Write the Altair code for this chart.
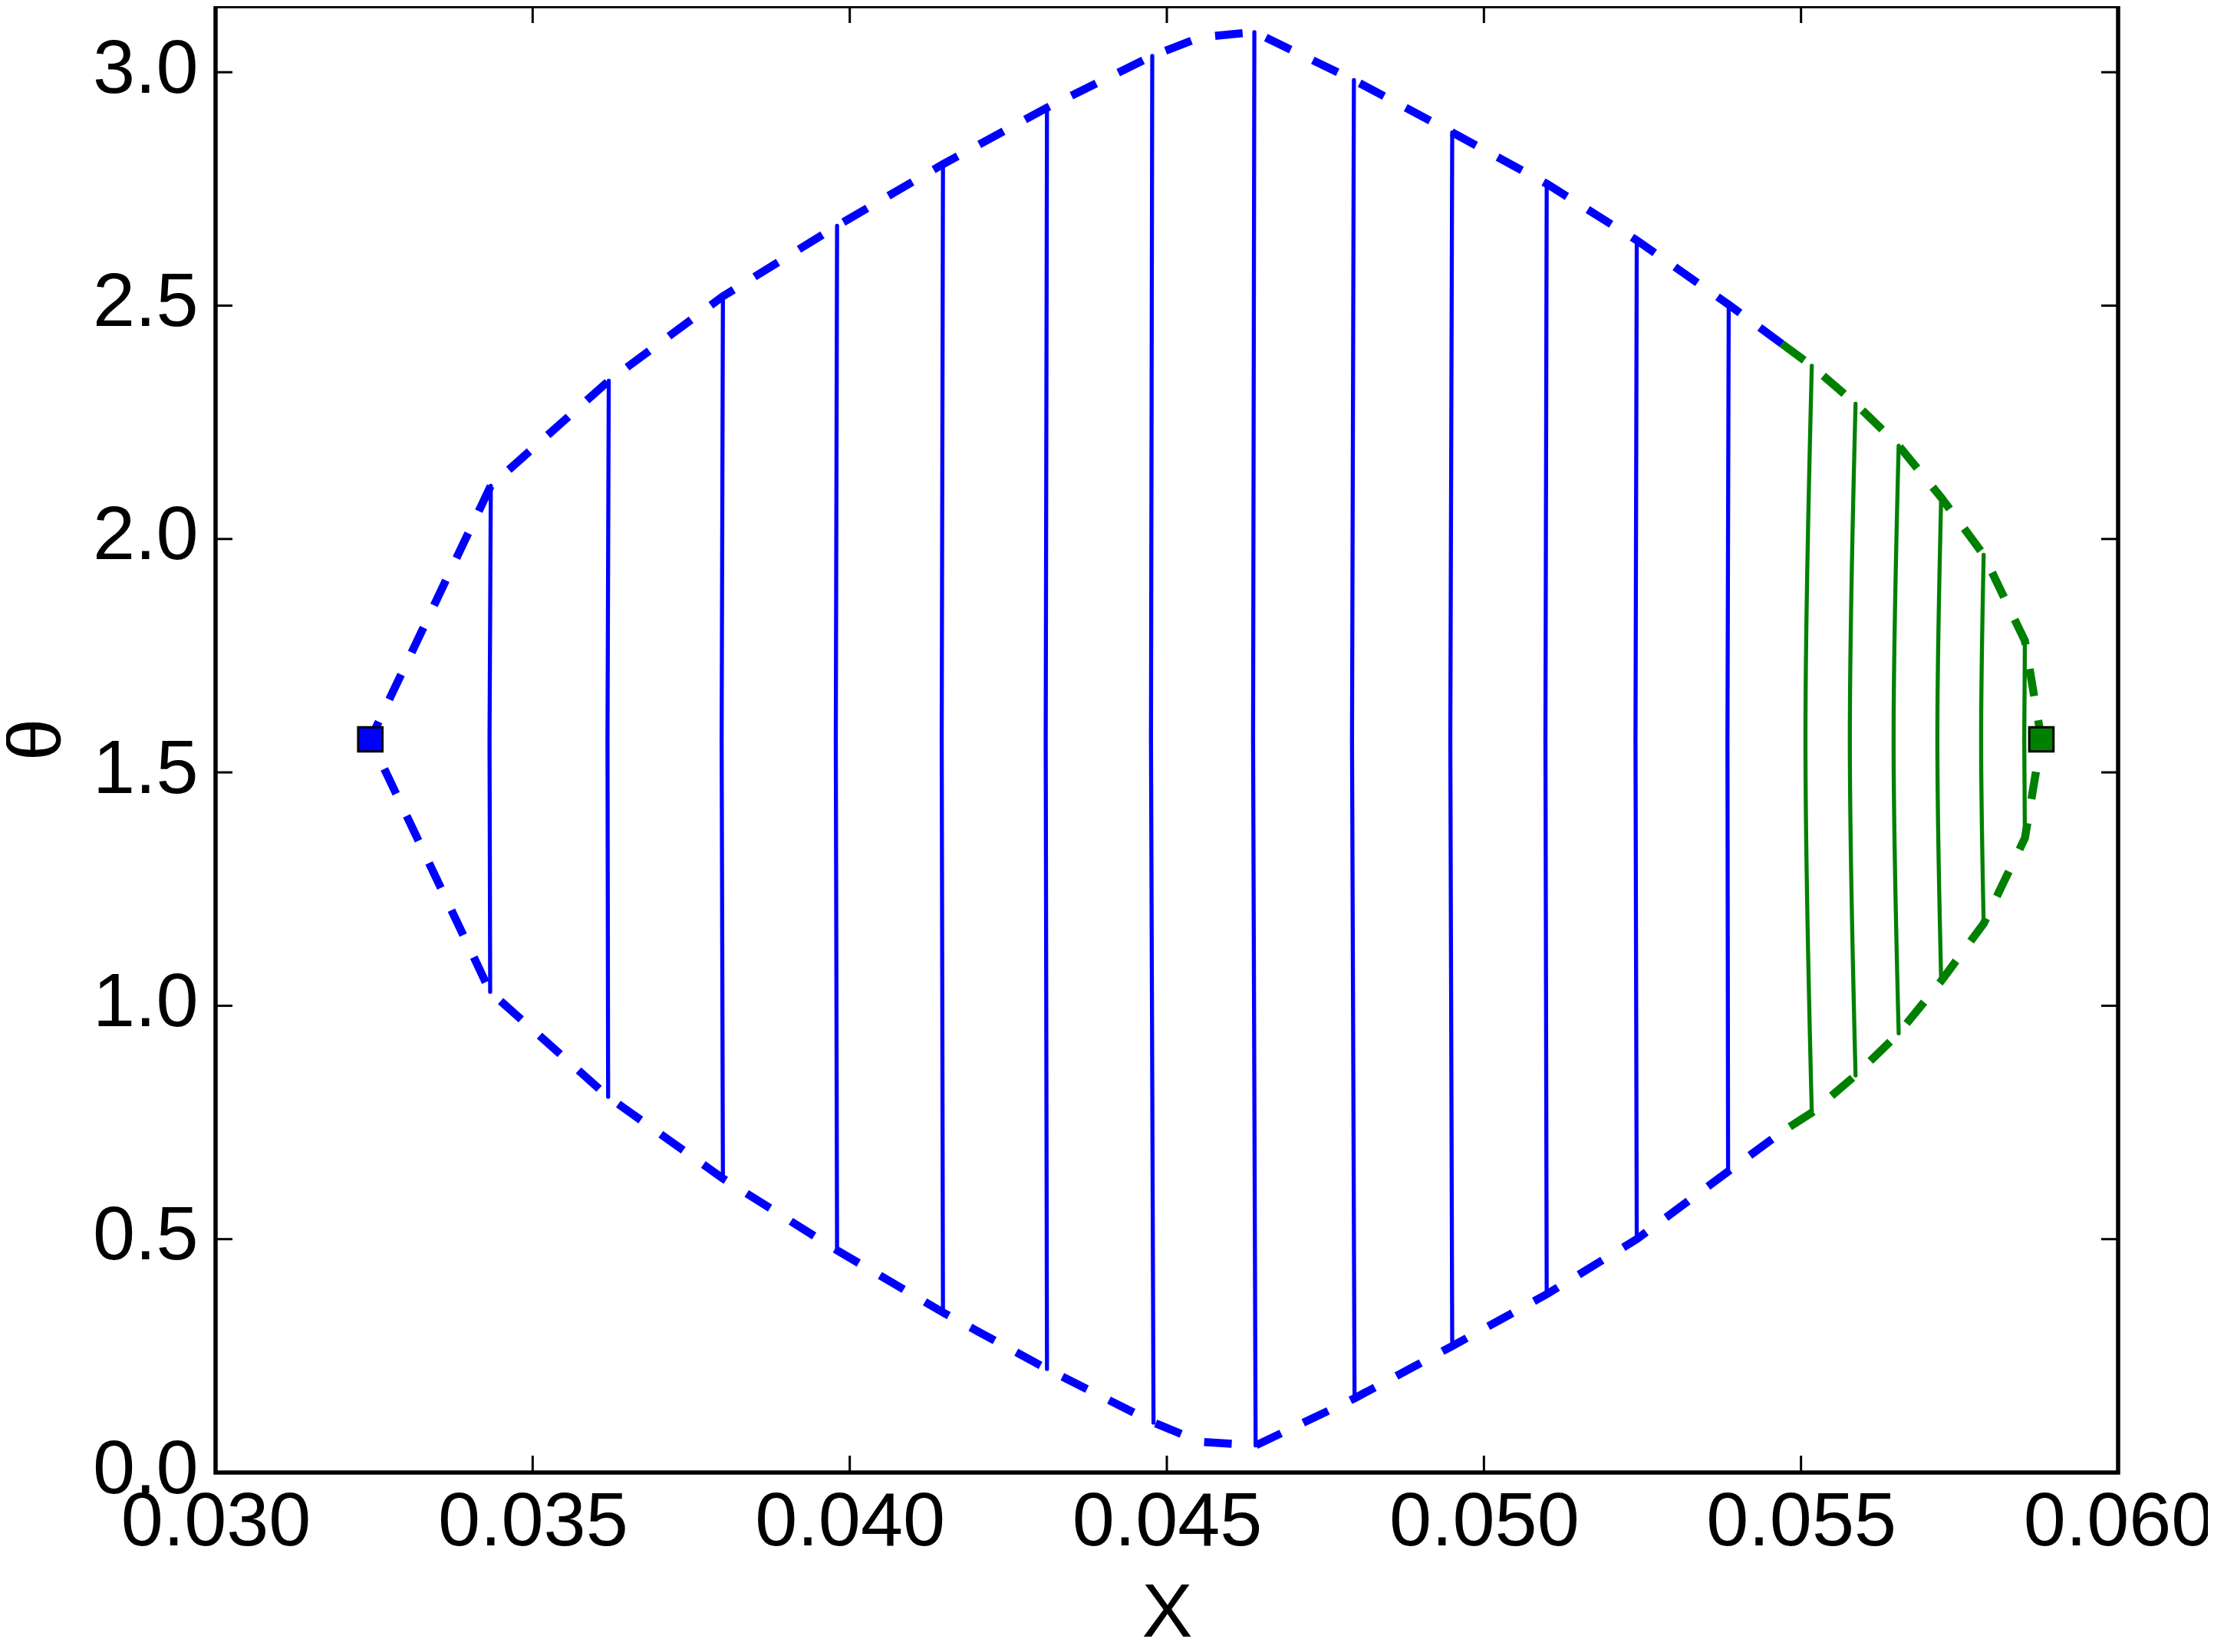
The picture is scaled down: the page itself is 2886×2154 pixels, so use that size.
import math
import altair as alt
import pandas as pd

PI = math.pi
MID = 1.5708

# ---- axis ticks ----
x_ticks = [0.030, 0.035, 0.040, 0.045, 0.050, 0.055, 0.060]
y_ticks = [0.0, 0.5, 1.0, 1.5, 2.0, 2.5, 3.0]

# ---- blue contour lines ----
blue_x_top = [0.03434, 0.03620, 0.03800, 0.03980, 0.04147, 0.04311, 0.04477,
              0.04638, 0.04795, 0.04950, 0.05099, 0.05241, 0.05386]
blue_x_mid = [0.03432, 0.03618, 0.03798, 0.03978, 0.04145, 0.04309, 0.04475,
              0.04636, 0.04792, 0.04947, 0.05097, 0.05239, 0.05384]
blue_x_bot = [0.03433, 0.03619, 0.03800, 0.03980, 0.04147, 0.04311, 0.04479,
              0.04640, 0.04796, 0.04950, 0.05099, 0.05241, 0.05385]
blue_top = [2.114, 2.339, 2.520, 2.671, 2.803, 2.924, 3.035,
            3.086, 2.983, 2.871, 2.761, 2.640, 2.502]
blue_bot = [1.030, 0.805, 0.630, 0.476, 0.343, 0.222, 0.107,
            0.058, 0.159, 0.271, 0.382, 0.500, 0.645]

# ---- green contour lines ----
green_x_top = [0.05517, 0.05586, 0.05654, 0.05721, 0.05788, 0.05853]
green_x_mid = [0.05507, 0.05577, 0.05646, 0.05715, 0.05784, 0.05852]
green_x_bot = [0.05517, 0.05586, 0.05654, 0.05721, 0.05788, 0.05853]
green_top = [2.371, 2.290, 2.200, 2.089, 1.966, 1.782]
green_bot = [0.771, 0.851, 0.941, 1.053, 1.176, 1.359]

# ---- boundary extra vertices ----
square_x = [0.03244, 0.05879]
square_y = [1.5708, 1.5708]
square_kind = ["blue", "green"]
peak_x, peak_top, peak_bot = 0.04553, 3.075, 0.066
junc_x, junc_top, junc_bot = 0.0547, 2.418, 0.730

FONT = "Liberation Sans"
W, H = 2480, 1912
BLUE, GREEN = "#0000ff", "#008000"

# ---- build tables ----
def lines_df(xt, xm, xb, top, bot):
    rows = []
    for i in range(len(xt)):
        rows.append({"line": i, "o": 0, "x": xt[i], "y": top[i]})
        rows.append({"line": i, "o": 1, "x": xm[i], "y": MID})
        rows.append({"line": i, "o": 2, "x": xb[i], "y": bot[i]})
    return pd.DataFrame(rows)

blue_lines = lines_df(blue_x_top, blue_x_mid, blue_x_bot, blue_top, blue_bot)
green_lines = lines_df(green_x_top, green_x_mid, green_x_bot, green_top, green_bot)

bpts = [(junc_x, junc_top)]
bpts += [(blue_x_top[i], blue_top[i]) for i in range(12, 6, -1)]
bpts += [(peak_x, peak_top)]
bpts += [(blue_x_top[i], blue_top[i]) for i in range(6, -1, -1)]
bpts += [(square_x[0], square_y[0])]
bpts += [(blue_x_bot[i], blue_bot[i]) for i in range(0, 7)]
bpts += [(peak_x, peak_bot)]
bpts += [(blue_x_bot[i], blue_bot[i]) for i in range(7, 13)]
bpts += [(junc_x, junc_bot)]
blue_bound = pd.DataFrame([{"o": k, "x": p[0], "y": p[1]} for k, p in enumerate(bpts)])

gpts = [(junc_x, junc_top)]
gpts += [(green_x_top[i], green_top[i]) for i in range(6)]
gpts += [(square_x[1], square_y[1])]
gpts += [(green_x_bot[i], green_bot[i]) for i in range(5, -1, -1)]
gpts += [(junc_x, junc_bot)]
green_bound = pd.DataFrame([{"o": k, "x": p[0], "y": p[1]} for k, p in enumerate(gpts)])

squares = pd.DataFrame({"x": square_x, "y": square_y, "kind": square_kind})
xt_df = pd.DataFrame({"x": x_ticks})
yt_df = pd.DataFrame({"y": y_ticks})

xs = alt.Scale(domain=[0.030, 0.060], nice=False, zero=False)
ys = alt.Scale(domain=[0, PI], nice=False, zero=False)

x_axis = alt.Axis(values=x_ticks, format=".3f", ticks=False,
                  domain=False, grid=False, labelFlush=False, labelOverlap=False,
                  labelLimit=0,
                  labelPadding=16, labelFont=FONT, labelFontSize=99, labelColor="black",
                  titleFont=FONT, titleFontSize=99, titleFontWeight="normal",
                  titleColor="black", titleY=213, titleBaseline="alphabetic")
y_axis = alt.Axis(values=y_ticks, format=".1f", ticks=False,
                  domain=False, grid=False, labelFlush=False, labelOverlap=False,
                  labelLimit=0,
                  labelPadding=23, labelOffset=-4, labelFont=FONT, labelFontSize=99,
                  labelColor="black", titleFont=FONT, titleFontSize=99,
                  titleFontWeight="normal", titleColor="black", titleAngle=270,
                  titleX=-204, titleBaseline="alphabetic")


def X(field="x"):
    return alt.X(f"{field}:Q", scale=xs, axis=x_axis, title="X")


def Y(field="y"):
    return alt.Y(f"{field}:Q", scale=ys, axis=y_axis, title="θ")


blue_l = alt.Chart(blue_lines).mark_line(color=BLUE, strokeWidth=5.3, strokeCap="round",
                                         interpolate="natural").encode(
    x=X(), y=Y(), detail="line:N", order="o:Q")

green_l = alt.Chart(green_lines).mark_line(color=GREEN, strokeWidth=5.3, strokeCap="round",
                                           interpolate="natural").encode(
    x=X(), y=Y(), detail="line:N", order="o:Q")

blue_b = alt.Chart(blue_bound).mark_line(color=BLUE, strokeWidth=10.5, strokeDash=[36, 32]).encode(
    x=X(), y=Y(), order="o:Q")

green_b = alt.Chart(green_bound).mark_line(color=GREEN, strokeWidth=10.5, strokeDash=[36, 32]).encode(
    x=X(), y=Y(), order="o:Q")

sq = alt.Chart(squares).mark_point(shape="square", filled=True, size=1000, opacity=1,
                                   stroke="black", strokeWidth=3).encode(
    x=X(), y=Y(),
    fill=alt.Fill("kind:N", scale=alt.Scale(domain=["blue", "green"], range=[BLUE, GREEN]), legend=None))

TL = 22
tick_bottom = alt.Chart(xt_df).mark_rule(color="black", strokeWidth=3).encode(
    x=X(), y=alt.value(H), y2=alt.value(H - TL))
tick_top = alt.Chart(xt_df).mark_rule(color="black", strokeWidth=3).encode(
    x=X(), y=alt.value(0), y2=alt.value(TL))
tick_left = alt.Chart(yt_df).mark_rule(color="black", strokeWidth=3).encode(
    y=Y(), x=alt.value(0), x2=alt.value(TL))
tick_right = alt.Chart(yt_df).mark_rule(color="black", strokeWidth=3).encode(
    y=Y(), x=alt.value(W), x2=alt.value(W - TL))

chart = alt.layer(
    blue_l, green_l, blue_b, green_b, sq, tick_bottom, tick_top, tick_left, tick_right
).properties(
    width=W, height=H,
    autosize=alt.AutoSizeParams(type="none"),
    padding={"left": 273, "top": 0, "right": 117, "bottom": 226},
    background="white",
).configure_view(stroke="black", strokeWidth=5.5)

chart.save("out.html", embed_options={"renderer": "svg", "actions": False})
